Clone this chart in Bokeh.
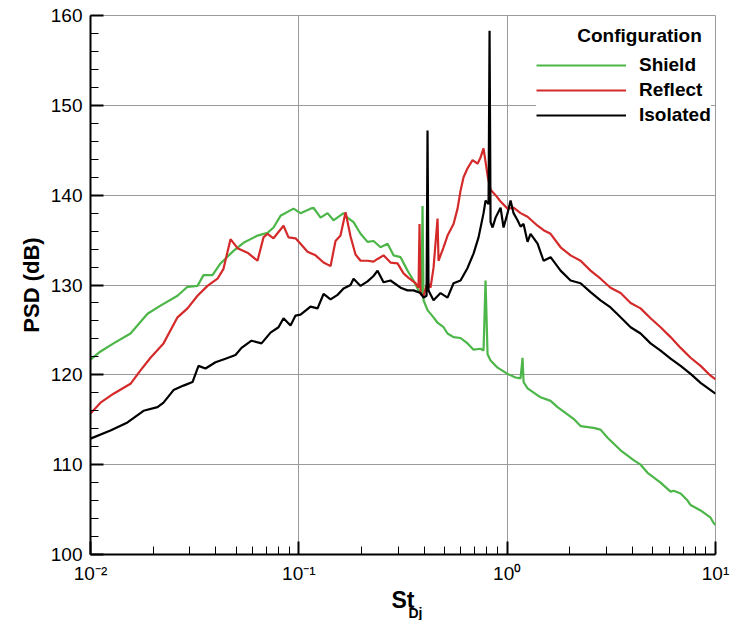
from bokeh.plotting import figure
from bokeh.models import (Range1d, FixedTicker, SingleIntervalTicker, CustomJSTickFormatter,
                          Label, Legend, LegendItem, Title)
from bokeh.embed import file_html
from bokeh.resources import INLINE

# ---------------- data ----------------
shield_st = [0.01000, 0.01117, 0.01290, 0.01556, 0.01878, 0.02168, 0.02616, 0.02922, 0.03263, 0.03487,
             0.03852, 0.04207, 0.04858, 0.05425, 0.06334, 0.07074, 0.07559, 0.08168, 0.09430, 0.1019,
             0.1138, 0.1176, 0.1271, 0.1373, 0.1467, 0.1639, 0.1713, 0.1831, 0.1978, 0.2137,
             0.2283, 0.2467, 0.2666, 0.2848, 0.3078, 0.3325, 0.3553, 0.3754, 0.3882, 0.3924,
             0.3968, 0.4147, 0.4431, 0.4632, 0.4950, 0.5174, 0.5528, 0.5973, 0.6454, 0.6896,
             0.7451, 0.7702, 0.7874, 0.8052, 0.8323, 0.8993, 1.0044, 1.0972, 1.1594, 1.1853,
             1.1985, 1.2527, 1.4464, 1.6157, 1.7458, 2.0834, 2.2506, 2.5983, 2.8072, 3.0330,
             3.5032, 4.0448, 4.3692, 4.7206, 5.4500, 6.0868, 6.2918, 6.8013, 7.3469, 7.5943,
             8.4819, 9.4732, 9.7925, 10.0]
shield_psd = [121.7, 122.6, 123.5, 124.6, 126.8, 127.7, 128.8, 129.8, 129.9, 131.1,
              131.1, 132.4, 133.8, 134.7, 135.5, 135.8, 136.4, 137.7, 138.5, 138.0,
              138.5, 138.6, 137.5, 138.0, 137.2, 138.0, 137.5, 137.0, 135.7, 134.8,
              134.9, 134.2, 134.6, 133.3, 133.1, 131.6, 130.5, 129.4, 129.0, 138.8,
              128.3, 127.2, 126.4, 125.8, 125.3, 124.6, 124.2, 124.1, 123.5, 122.8,
              122.9, 122.7, 130.5, 122.3, 121.6, 120.8, 120.1, 119.7, 119.6, 121.9,
              119.2, 118.5, 117.5, 117.1, 116.4, 115.1, 114.3, 114.1, 113.9, 113.0,
              111.6, 110.5, 110.0, 109.1, 108.0, 107.0, 107.1, 106.8, 106.0, 105.5,
              104.9, 104.1, 103.5, 103.3]

reflect_st = [0.01000, 0.01117, 0.01290, 0.01556, 0.01738, 0.01941, 0.02241, 0.02616, 0.02922, 0.03263,
              0.03644, 0.04070, 0.04349, 0.04699, 0.05077, 0.05671, 0.06334, 0.06768, 0.07074, 0.07559,
              0.08443, 0.08923, 0.09641, 0.1019, 0.1101, 0.1203, 0.1314, 0.1420, 0.1500, 0.1585,
              0.1676, 0.1771, 0.1871, 0.1978, 0.2137, 0.2283, 0.2387, 0.2550, 0.2755, 0.2977,
              0.3181, 0.3362, 0.3632, 0.3754, 0.3796, 0.3838, 0.3968, 0.4147, 0.4287, 0.4431,
              0.4632, 0.4683, 0.4950, 0.5174, 0.5528, 0.5779, 0.5973, 0.6175, 0.6454, 0.6821,
              0.7208, 0.7451, 0.7702, 0.8052, 0.8323, 0.8797, 0.9296, 1.0044, 1.0732, 1.1594,
              1.2527, 1.3992, 1.4952, 1.6157, 1.8046, 2.0155, 2.2506, 2.5136, 2.8072, 3.1351,
              3.5032, 3.9129, 4.3692, 4.8797, 5.4500, 6.0868, 6.8013, 7.5943, 8.4819, 9.4732,
              10.0]
reflect_psd = [115.7, 116.9, 117.9, 119.0, 120.5, 121.9, 123.5, 126.4, 127.4, 128.8,
               129.9, 130.7, 131.8, 135.1, 134.1, 133.6, 132.7, 135.3, 135.7, 135.2,
               136.6, 135.3, 135.2, 134.6, 133.7, 133.3, 132.5, 132.1, 134.9, 135.5,
               138.1, 135.4, 133.4, 132.7, 132.7, 132.6, 132.9, 133.3, 132.5, 132.4,
               131.3, 130.8, 130.2, 129.7, 136.8, 129.0, 128.8, 130.3, 129.7, 131.9,
               137.4, 132.7, 134.2, 135.5, 136.8, 138.5, 140.5, 142.0, 143.0, 143.9,
               143.5, 144.2, 145.2, 142.2, 140.6, 140.0, 139.3, 138.5, 138.6, 138.0,
               137.6, 136.6, 136.1, 135.7, 134.2, 133.3, 132.7, 131.6, 130.7, 129.7,
               129.1, 128.0, 127.4, 126.3, 125.3, 124.2, 123.0, 121.9, 121.0, 119.9,
               119.5]

isolated_st = [0.01000, 0.01247, 0.01505, 0.01797, 0.02097, 0.02241, 0.02503, 0.02795, 0.03088, 0.03299,
               0.03565, 0.03981, 0.04446, 0.04966, 0.05307, 0.05927, 0.06620, 0.07313, 0.07989, 0.08443,
               0.09122, 0.09641, 0.1019, 0.1138, 0.1230, 0.1314, 0.1420, 0.1534, 0.1639, 0.1771,
               0.1831, 0.1978, 0.2137, 0.2283, 0.2387, 0.2550, 0.2755, 0.3078, 0.3325, 0.3553,
               0.3838, 0.3968, 0.4103, 0.4147, 0.4193, 0.4431, 0.4789, 0.5174, 0.5528, 0.5973,
               0.6454, 0.6896, 0.7288, 0.7702, 0.7874, 0.8141, 0.8232, 0.8323, 0.8510, 0.8797,
               0.9296, 0.9609, 1.0044, 1.0383, 1.0732, 1.1218, 1.1594, 1.1985, 1.2527, 1.2950,
               1.3992, 1.4952, 1.6157, 1.8046, 2.0155, 2.2506, 2.5136, 2.8072, 3.1351, 3.5032,
               3.9129, 4.3692, 4.8797, 5.4500, 6.0868, 6.8013, 7.5943, 8.4819, 9.4732, 10.0]
isolated_psd = [112.9, 113.8, 114.7, 116.0, 116.4, 116.9, 118.3, 118.8, 119.2, 121.0,
                120.7, 121.4, 121.8, 122.2, 123.0, 123.8, 123.5, 124.7, 125.3, 126.3,
                125.5, 126.6, 126.7, 127.6, 127.4, 129.0, 128.4, 128.9, 129.6, 130.0,
                130.7, 129.9, 130.4, 131.0, 131.6, 130.3, 130.5, 129.7, 129.4, 129.4,
                129.1, 128.6, 128.8, 147.2, 129.4, 128.3, 129.1, 128.6, 130.2, 130.5,
                131.9, 133.5, 135.3, 138.0, 139.4, 139.0, 158.3, 137.0, 136.4, 137.5,
                138.6, 136.4, 138.0, 139.4, 138.0, 137.2, 136.5, 136.8, 134.8, 135.7,
                134.6, 132.7, 133.1, 131.6, 130.5, 130.2, 129.2, 128.3, 127.5, 126.4,
                125.3, 124.6, 123.5, 122.7, 121.8, 121.0, 120.1, 119.1, 118.3, 117.9]

series_names = ["Shield", "Reflect", "Isolated"]
x_tick_values = [0.01, 0.1, 1.0, 10.0]
x_tick_labels = ["10\u207b\u00b2", "10\u207b\u00b9", "10\u2070", "10\u00b9"]
x_minor_values = [0.02, 0.03, 0.04, 0.05, 0.06, 0.07, 0.08, 0.09,
                  0.2, 0.3, 0.4, 0.5, 0.6, 0.7, 0.8, 0.9,
                  2, 3, 4, 5, 6, 7, 8, 9]

# ---------------- figure ----------------
FONT = "Liberation Sans"
p = figure(frame_width=625, frame_height=539, x_axis_type="log",
           x_range=Range1d(0.01, 10), y_range=Range1d(100, 160),
           output_backend="svg", toolbar_location=None,
           min_border_left=90, min_border_right=21, min_border_top=15, min_border_bottom=66)
p.background_fill_color = "white"
p.border_fill_color = "white"
p.outline_line_color = "#9a9a9a"
p.outline_line_width = 1

p.xgrid.grid_line_color = "#9a9a9a"
p.ygrid.grid_line_color = "#9a9a9a"
p.xgrid.grid_line_width = 1
p.ygrid.grid_line_width = 1

xa = p.xaxis[0]
xa.ticker = FixedTicker(ticks=x_tick_values, minor_ticks=x_minor_values)
xa.formatter = CustomJSTickFormatter(args=dict(vals=x_tick_values, labs=x_tick_labels), code="""
let best = 0;
for (let i = 0; i < vals.length; i++) {
  if (Math.abs(Math.log10(vals[i]) - Math.log10(tick)) < Math.abs(Math.log10(vals[best]) - Math.log10(tick))) best = i;
}
return labs[best];
""")
xa.axis_label = "St"
xa.axis_label_text_font = FONT
xa.axis_label_text_font_style = "bold"
xa.axis_label_text_font_size = "23px"
xa.axis_label_text_color = "black"
xa.axis_label_standoff = 0

ya = p.yaxis[0]
ya.ticker = SingleIntervalTicker(interval=10, num_minor_ticks=5)
ya.axis_label = "PSD (dB)"
ya.axis_label_text_font = FONT
ya.axis_label_text_font_style = "bold"
ya.axis_label_text_font_size = "22px"
ya.axis_label_text_color = "black"
ya.axis_label_standoff = 4

for ax in (xa, ya):
    ax.axis_line_color = "black"
    ax.axis_line_width = 2
    ax.major_tick_line_color = "black"
    ax.major_tick_line_width = 2
    ax.minor_tick_line_color = "black"
    ax.minor_tick_line_width = 1
    ax.major_tick_in = 13
    ax.major_tick_out = 0
    ax.minor_tick_in = 8
    ax.minor_tick_out = 0
    ax.major_label_text_font = FONT
    ax.major_label_text_font_size = "19px"
    ax.major_label_text_color = "black"
    ax.major_label_standoff = 8

# subscript of the x axis title
p.add_layout(Title(text="Dj", align="left", vertical_align="top", offset=318, standoff=-22,
                   text_font=FONT, text_font_style="bold", text_font_size="14px",
                   text_color="black"), "below")

r_sh = p.line(shield_st, shield_psd, line_color="#4cb648", line_width=2.2)
r_re = p.line(reflect_st, reflect_psd, line_color="#d42a2a", line_width=2.2)
r_is = p.line(isolated_st, isolated_psd, line_color="black", line_width=2.2)

legend = Legend(items=[LegendItem(label=series_names[0], renderers=[r_sh]),
                       LegendItem(label=series_names[1], renderers=[r_re]),
                       LegendItem(label=series_names[2], renderers=[r_is])],
                location=(446, 428), orientation="vertical",
                glyph_width=90, glyph_height=20, label_height=20, label_standoff=13,
                spacing=3, padding=4, margin=0,
                border_line_color=None, background_fill_color="white", background_fill_alpha=1.0,
                label_text_font=FONT, label_text_font_style="bold", label_text_font_size="19px",
                label_text_color="black")
p.add_layout(legend)

p.add_layout(Label(x=549, y=519, x_units="screen", y_units="screen", text="Configuration",
                   text_align="center", text_baseline="middle", text_font=FONT,
                   text_font_style="bold", text_font_size="19px", text_color="black"))

open("out.html", "w").write(file_html(p, INLINE))
